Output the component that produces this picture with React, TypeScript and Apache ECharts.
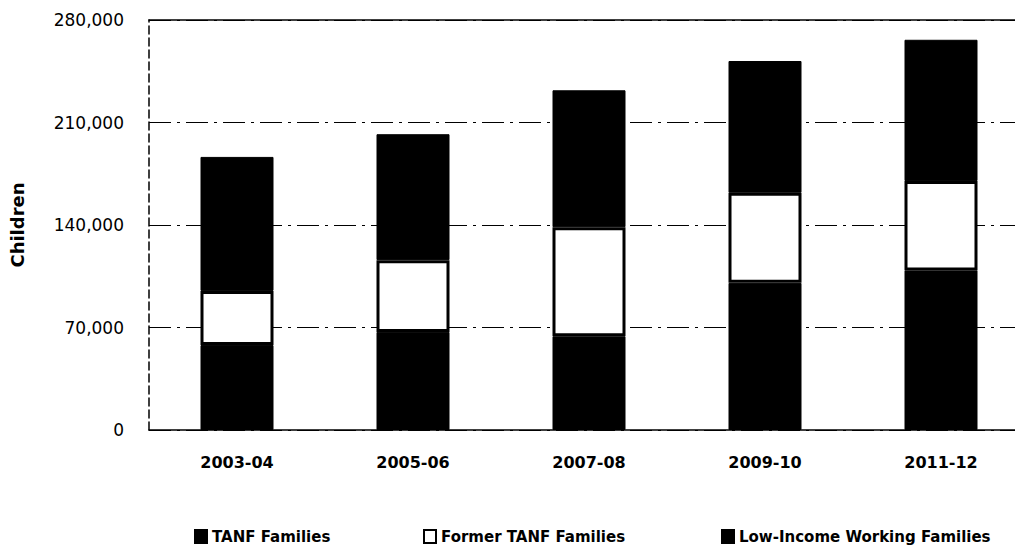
import React, { useEffect, useRef } from "react";
import * as echarts from "echarts";

const categories = ["2003-04", "2005-06", "2007-08", "2009-10", "2011-12"];
const tanf = [58000, 67000, 64000, 100500, 109000];
const formerTanf = [37000, 49000, 74500, 61500, 61000];
const lowIncome = [91500, 86000, 93500, 90000, 96500];
const yTicks = [0, 70000, 140000, 210000, 280000];

const FONT = "'DejaVu Sans', sans-serif";

export default function App() {
  const ref = useRef<HTMLDivElement>(null);
  useEffect(() => {
    if (!ref.current) return;
    const chart = echarts.init(ref.current, undefined, { renderer: "svg" });
    const legendText = { fontFamily: FONT, fontSize: 15, fontWeight: "bold", color: "#000" };
    const legendBase = { top: 529, itemWidth: 12, itemHeight: 13, itemGap: 4, textStyle: legendText, selectedMode: false, padding: 0 };
    chart.setOption({
      animation: false,
      backgroundColor: "#fff",
      grid: { left: 149, top: 20, width: 880, height: 410, containLabel: false, outerBoundsMode: "none" },
      legend: [
        { ...legendBase, data: [{ name: "TANF Families", icon: "rect" }], left: 194 },
        { ...legendBase, data: [{ name: "Former TANF Families", icon: "rect" }], left: 423 },
        { ...legendBase, data: [{ name: "Low-Income Working Families", icon: "rect" }], left: 721 },
      ],
      xAxis: [
        {
          type: "category",
          data: categories,
          axisLine: { show: true, lineStyle: { color: "#000", width: 1.5 } },
          axisTick: { show: false },
          axisLabel: { fontFamily: FONT, fontSize: 16, fontWeight: "bold", color: "#000", margin: 24 },
        },
        {
          type: "category",
          data: categories,
          position: "top",
          axisLine: { show: true, lineStyle: { color: "#000", width: 1.5 } },
          axisTick: { show: false },
          axisLabel: { show: false },
        },
      ],
      yAxis: {
        type: "value",
        min: 0,
        max: 280000,
        interval: 70000,
        name: "Children",
        nameLocation: "middle",
        nameGap: 123,
        nameTextStyle: { fontFamily: FONT, fontSize: 18, fontWeight: "bold", color: "#000" },
        axisLine: { show: true, lineStyle: { color: "#000", width: 1.5, type: [8, 4] } },
        axisTick: { show: false },
        axisLabel: {
          fontFamily: FONT,
          fontSize: 17,
          color: "#000",
          margin: 25,
          formatter: (v: number) => (yTicks.includes(v) ? v.toLocaleString("en-US") : ""),
        },
        splitLine: { show: true, lineStyle: { color: "#000", width: 1.2, type: [22, 6, 3, 6] } },
      },
      series: [
        {
          name: "TANF Families",
          type: "bar",
          stack: "total",
          data: tanf,
          barWidth: 73,
          itemStyle: { color: "#000", borderColor: "#000", borderWidth: 1 },
        },
        {
          name: "Former TANF Families",
          type: "bar",
          stack: "total",
          data: formerTanf,
          barWidth: 73,
          itemStyle: { color: "#fff", borderColor: "#000", borderWidth: 3 },
        },
        {
          name: "Low-Income Working Families",
          type: "bar",
          stack: "total",
          data: lowIncome,
          barWidth: 73,
          itemStyle: { color: "#000", borderColor: "#000", borderWidth: 1 },
        },
      ],
    });
    return () => chart.dispose();
  }, []);
  return (
    <div style={{ position: "fixed", left: 0, top: 0, width: 1015, height: 548, overflow: "hidden", background: "#fff" }}>
      <div ref={ref} style={{ width: 1040, height: 548 }} />
    </div>
  );
}
